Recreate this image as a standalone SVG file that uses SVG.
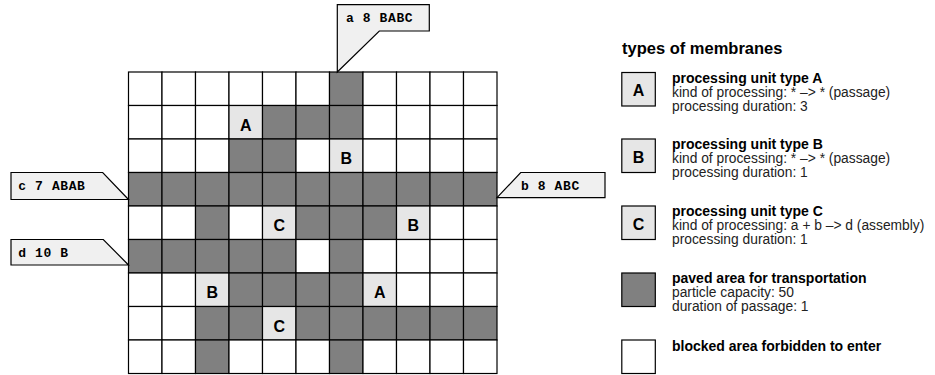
<svg xmlns="http://www.w3.org/2000/svg" width="935" height="375" viewBox="0 0 935 375">
<defs>
<style>
.w{fill:#ffffff;stroke:#000;stroke-width:1.2}
.p{fill:#808080;stroke:#000;stroke-width:1.2}
.u{fill:#e6e6e6;stroke:#000;stroke-width:1.2}
.ul{font-family:"Liberation Sans",Arial,sans-serif;font-weight:bold;font-size:16px;text-anchor:middle;fill:#000}
.co{fill:#f0f0f0;stroke:#000;stroke-width:1.2}
.ct{font-family:"Liberation Mono","Courier New",monospace;font-weight:bold;font-size:13px;letter-spacing:0.6px;fill:#000}
.lb{font-family:"Liberation Sans",Arial,sans-serif;font-weight:bold;font-size:14px;fill:#000}
.lt{font-family:"Liberation Sans",Arial,sans-serif;font-size:13.8px;fill:#222}
.title{font-family:"Liberation Sans",Arial,sans-serif;font-weight:bold;font-size:16.5px;fill:#000}
</style>
</defs>
<rect width="935" height="375" fill="#fff"/>
<g id="grid">
<!-- row 0 -->
<rect class="w" x="128.5" y="72" width="33.5" height="33.5"/>
<rect class="w" x="162" y="72" width="33.5" height="33.5"/>
<rect class="w" x="195.5" y="72" width="33.5" height="33.5"/>
<rect class="w" x="229" y="72" width="33.5" height="33.5"/>
<rect class="w" x="262.5" y="72" width="33.5" height="33.5"/>
<rect class="w" x="296" y="72" width="33.5" height="33.5"/>
<rect class="p" x="329.5" y="72" width="33.5" height="33.5"/>
<rect class="w" x="363" y="72" width="33.5" height="33.5"/>
<rect class="w" x="396.5" y="72" width="33.5" height="33.5"/>
<rect class="w" x="430" y="72" width="33.5" height="33.5"/>
<rect class="w" x="463.5" y="72" width="33.5" height="33.5"/>
<!-- row 1 -->
<rect class="w" x="128.5" y="105.5" width="33.5" height="33.5"/>
<rect class="w" x="162" y="105.5" width="33.5" height="33.5"/>
<rect class="w" x="195.5" y="105.5" width="33.5" height="33.5"/>
<rect class="u" x="229" y="105.5" width="33.5" height="33.5"/>
<rect class="p" x="262.5" y="105.5" width="33.5" height="33.5"/>
<rect class="p" x="296" y="105.5" width="33.5" height="33.5"/>
<rect class="p" x="329.5" y="105.5" width="33.5" height="33.5"/>
<rect class="w" x="363" y="105.5" width="33.5" height="33.5"/>
<rect class="w" x="396.5" y="105.5" width="33.5" height="33.5"/>
<rect class="w" x="430" y="105.5" width="33.5" height="33.5"/>
<rect class="w" x="463.5" y="105.5" width="33.5" height="33.5"/>
<!-- row 2 -->
<rect class="w" x="128.5" y="139" width="33.5" height="33.5"/>
<rect class="w" x="162" y="139" width="33.5" height="33.5"/>
<rect class="w" x="195.5" y="139" width="33.5" height="33.5"/>
<rect class="p" x="229" y="139" width="33.5" height="33.5"/>
<rect class="p" x="262.5" y="139" width="33.5" height="33.5"/>
<rect class="w" x="296" y="139" width="33.5" height="33.5"/>
<rect class="u" x="329.5" y="139" width="33.5" height="33.5"/>
<rect class="w" x="363" y="139" width="33.5" height="33.5"/>
<rect class="w" x="396.5" y="139" width="33.5" height="33.5"/>
<rect class="w" x="430" y="139" width="33.5" height="33.5"/>
<rect class="w" x="463.5" y="139" width="33.5" height="33.5"/>
<!-- row 3 -->
<rect class="p" x="128.5" y="172.5" width="33.5" height="33.5"/>
<rect class="p" x="162" y="172.5" width="33.5" height="33.5"/>
<rect class="p" x="195.5" y="172.5" width="33.5" height="33.5"/>
<rect class="p" x="229" y="172.5" width="33.5" height="33.5"/>
<rect class="p" x="262.5" y="172.5" width="33.5" height="33.5"/>
<rect class="p" x="296" y="172.5" width="33.5" height="33.5"/>
<rect class="p" x="329.5" y="172.5" width="33.5" height="33.5"/>
<rect class="p" x="363" y="172.5" width="33.5" height="33.5"/>
<rect class="p" x="396.5" y="172.5" width="33.5" height="33.5"/>
<rect class="p" x="430" y="172.5" width="33.5" height="33.5"/>
<rect class="p" x="463.5" y="172.5" width="33.5" height="33.5"/>
<!-- row 4 -->
<rect class="w" x="128.5" y="206" width="33.5" height="33.5"/>
<rect class="w" x="162" y="206" width="33.5" height="33.5"/>
<rect class="p" x="195.5" y="206" width="33.5" height="33.5"/>
<rect class="w" x="229" y="206" width="33.5" height="33.5"/>
<rect class="u" x="262.5" y="206" width="33.5" height="33.5"/>
<rect class="p" x="296" y="206" width="33.5" height="33.5"/>
<rect class="p" x="329.5" y="206" width="33.5" height="33.5"/>
<rect class="p" x="363" y="206" width="33.5" height="33.5"/>
<rect class="u" x="396.5" y="206" width="33.5" height="33.5"/>
<rect class="w" x="430" y="206" width="33.5" height="33.5"/>
<rect class="w" x="463.5" y="206" width="33.5" height="33.5"/>
<!-- row 5 -->
<rect class="p" x="128.5" y="239.5" width="33.5" height="33.5"/>
<rect class="p" x="162" y="239.5" width="33.5" height="33.5"/>
<rect class="p" x="195.5" y="239.5" width="33.5" height="33.5"/>
<rect class="p" x="229" y="239.5" width="33.5" height="33.5"/>
<rect class="p" x="262.5" y="239.5" width="33.5" height="33.5"/>
<rect class="w" x="296" y="239.5" width="33.5" height="33.5"/>
<rect class="p" x="329.5" y="239.5" width="33.5" height="33.5"/>
<rect class="w" x="363" y="239.5" width="33.5" height="33.5"/>
<rect class="w" x="396.5" y="239.5" width="33.5" height="33.5"/>
<rect class="w" x="430" y="239.5" width="33.5" height="33.5"/>
<rect class="w" x="463.5" y="239.5" width="33.5" height="33.5"/>
<!-- row 6 -->
<rect class="w" x="128.5" y="273" width="33.5" height="33.5"/>
<rect class="w" x="162" y="273" width="33.5" height="33.5"/>
<rect class="u" x="195.5" y="273" width="33.5" height="33.5"/>
<rect class="p" x="229" y="273" width="33.5" height="33.5"/>
<rect class="p" x="262.5" y="273" width="33.5" height="33.5"/>
<rect class="p" x="296" y="273" width="33.5" height="33.5"/>
<rect class="p" x="329.5" y="273" width="33.5" height="33.5"/>
<rect class="u" x="363" y="273" width="33.5" height="33.5"/>
<rect class="w" x="396.5" y="273" width="33.5" height="33.5"/>
<rect class="w" x="430" y="273" width="33.5" height="33.5"/>
<rect class="w" x="463.5" y="273" width="33.5" height="33.5"/>
<!-- row 7 -->
<rect class="w" x="128.5" y="306.5" width="33.5" height="33.5"/>
<rect class="w" x="162" y="306.5" width="33.5" height="33.5"/>
<rect class="p" x="195.5" y="306.5" width="33.5" height="33.5"/>
<rect class="p" x="229" y="306.5" width="33.5" height="33.5"/>
<rect class="u" x="262.5" y="306.5" width="33.5" height="33.5"/>
<rect class="p" x="296" y="306.5" width="33.5" height="33.5"/>
<rect class="p" x="329.5" y="306.5" width="33.5" height="33.5"/>
<rect class="p" x="363" y="306.5" width="33.5" height="33.5"/>
<rect class="p" x="396.5" y="306.5" width="33.5" height="33.5"/>
<rect class="p" x="430" y="306.5" width="33.5" height="33.5"/>
<rect class="p" x="463.5" y="306.5" width="33.5" height="33.5"/>
<!-- row 8 -->
<rect class="w" x="128.5" y="340" width="33.5" height="33.5"/>
<rect class="w" x="162" y="340" width="33.5" height="33.5"/>
<rect class="p" x="195.5" y="340" width="33.5" height="33.5"/>
<rect class="w" x="229" y="340" width="33.5" height="33.5"/>
<rect class="w" x="262.5" y="340" width="33.5" height="33.5"/>
<rect class="w" x="296" y="340" width="33.5" height="33.5"/>
<rect class="p" x="329.5" y="340" width="33.5" height="33.5"/>
<rect class="w" x="363" y="340" width="33.5" height="33.5"/>
<rect class="w" x="396.5" y="340" width="33.5" height="33.5"/>
<rect class="w" x="430" y="340" width="33.5" height="33.5"/>
<rect class="w" x="463.5" y="340" width="33.5" height="33.5"/>
</g>
<g id="units">
<text class="ul" x="245.75" y="130.5">A</text>
<text class="ul" x="346.25" y="164">B</text>
<text class="ul" x="279.25" y="231">C</text>
<text class="ul" x="413.25" y="231">B</text>
<text class="ul" x="212.25" y="298">B</text>
<text class="ul" x="379.75" y="298">A</text>
<text class="ul" x="279.25" y="331.5">C</text>
</g>
<g id="callout-a">
<polygon class="co" points="337.3,4.7 429.3,4.7 429.3,31 379.3,31 337.3,72"/>
<text class="ct" x="346" y="21.5">a 8 BABC</text>
</g>
<g id="callout-b">
<polygon class="co" points="520.7,172.5 605,172.5 605,197.7 497,197.7"/>
<text class="ct" x="521" y="190">b 8 ABC</text>
</g>
<g id="callout-c">
<polygon class="co" points="11,172.5 102.7,172.5 128.5,199.5 11,199.5"/>
<text class="ct" x="18.3" y="190">c 7 ABAB</text>
</g>
<g id="callout-d">
<polygon class="co" points="11,239.5 103.3,239.5 128.5,265 11,265"/>
<text class="ct" x="18.3" y="257.3">d 10 B</text>
</g>
<g id="legend">
<text class="title" x="622" y="54">types of membranes</text>
<g id="legend-A">
<rect class="u" x="621.8" y="72.5" width="33.5" height="33.5"/>
<text class="ul" x="638.5" y="96">A</text>
<text class="lb" x="672" y="82.5">processing unit type A</text>
<text class="lt" x="672" y="96.5">kind of processing: * –&gt; * (passage)</text>
<text class="lt" x="672" y="110.5">processing duration: 3</text>
</g>
<g id="legend-B">
<rect class="u" x="621.8" y="139" width="33.5" height="33.5"/>
<text class="ul" x="638.5" y="162.5">B</text>
<text class="lb" x="672" y="149">processing unit type B</text>
<text class="lt" x="672" y="163">kind of processing: * –&gt; * (passage)</text>
<text class="lt" x="672" y="177">processing duration: 1</text>
</g>
<g id="legend-C">
<rect class="u" x="621.8" y="206" width="33.5" height="33.5"/>
<text class="ul" x="638.5" y="229.5">C</text>
<text class="lb" x="672" y="216">processing unit type C</text>
<text class="lt" x="672" y="230">kind of processing: a + b –&gt; d (assembly)</text>
<text class="lt" x="672" y="244">processing duration: 1</text>
</g>
<g id="legend-paved">
<rect class="p" x="621.8" y="273" width="33.5" height="33.5"/>
<text class="lb" x="672" y="283">paved area for transportation</text>
<text class="lt" x="672" y="297">particle capacity: 50</text>
<text class="lt" x="672" y="311">duration of passage: 1</text>
</g>
<g id="legend-blocked">
<rect class="w" x="621.8" y="340" width="33.5" height="33.5"/>
<text class="lb" x="672" y="350.5">blocked area forbidden to enter</text>
</g>
</g>
<g id="connectors"/>
</svg>
